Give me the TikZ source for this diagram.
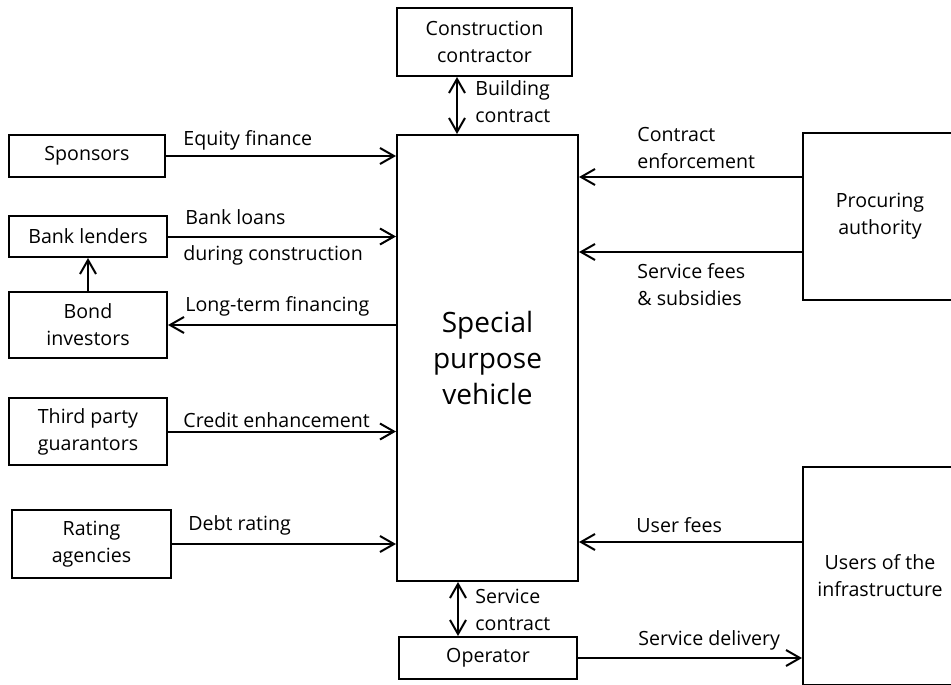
\documentclass[tikz,border=0pt]{standalone}
\usepackage{fontspec}
\setmainfont{Open Sans}
\usetikzlibrary{arrows.meta,positioning}

\begin{document}
\begin{tikzpicture}[x=0.5pt,y=-0.5pt,
  every node/.style={font=\fontsize{9.8}{13.5}\selectfont},
  party/.style={draw,line width=1pt,align=center,inner sep=0pt},
  flowlabel/.style={align=left,inner sep=0pt,anchor=west},
  flow/.style={line width=1pt,-{Straight Barb[length=7pt,width=8pt]}},
  twoway/.style={line width=1pt,{Straight Barb[length=7pt,width=8pt]}-{Straight Barb[length=7pt,width=8pt]}}]
  \useasboundingbox (0,0) rectangle (951,684);
  \clip (0,0) rectangle (951,684);

  % parties
  \node[party,minimum width=87.5pt,minimum height=34pt] (cc) at (484.5,42) {Construction\\contractor};
  \node[party,minimum width=90.5pt,minimum height=223pt,font=\fontsize{14}{17.8}\selectfont] (spv) at (487.5,358) {Special\\purpose\\vehicle};
  \node[party,minimum width=78pt,minimum height=21pt] (sponsors) at (87,156) {Sponsors};
  \node[party,minimum width=79pt,minimum height=20.5pt] (bank) at (88,236.5) {Bank lenders};
  \node[party,minimum width=79pt,minimum height=33pt] (bond) at (88,325) {Bond\\investors};
  \node[party,minimum width=79pt,minimum height=33.5pt] (third) at (88,431.5) {Third party\\guarantors};
  \node[party,minimum width=79.5pt,minimum height=34pt] (rating) at (91.5,544) {Rating\\agencies};
  \node[party,minimum width=89pt,minimum height=21pt] (operator) at (488,658) {Operator};
  \node[party,minimum width=77pt,minimum height=83.5pt] (proc) at (880,216.5) {Procuring\\authority};
  \node[party,minimum width=77pt,minimum height=109pt] (users) at (880,576) {Users of the\\infrastructure};

  % left side flows
  \draw[flow] (sponsors.east) -- (sponsors.east -| spv.west);
  \draw[flow] (bank.east) -- (bank.east -| spv.west);
  \draw[flow] (bond.east -| spv.west) -- (bond.east);
  \draw[flow] (third.east) -- (third.east -| spv.west);
  \draw[flow] (rating.east) -- (rating.east -| spv.west);
  \draw[flow] (bond.north) -- (bank.south);

  % contracts
  \coordinate (cx) at (457,0);
  \coordinate (ox) at (458,0);
  \draw[twoway] (cc.south -| cx) -- (spv.north -| cx);
  \draw[twoway] (spv.south -| ox) -- (operator.north -| ox);

  % right side flows
  \coordinate (ce) at (0,177);
  \coordinate (sf) at (0,252);
  \coordinate (uf) at (0,542);
  \draw[flow] (proc.west |- ce) -- (spv.east |- ce);
  \draw[flow] (proc.west |- sf) -- (spv.east |- sf);
  \draw[flow] (users.west |- uf) -- (spv.east |- uf);
  \draw[flow] (operator.east) -- (operator.east -| users.west);

  % labels
  \node[flowlabel] (equity) at (183,140) {Equity finance};
  \node[flowlabel] (loans) at (185,217) {Bank loans};
  \node[flowlabel] (during) at (183,255) {during construction};
  \node[flowlabel] (longterm) at (185,306) {Long-term financing};
  \node[flowlabel] (credit) at (183,420) {Credit enhancement};
  \node[flowlabel] (debt) at (188,525) {Debt rating};
  \node[flowlabel] (building) at (475,102) {Building\\contract};
  \node[flowlabel] (enforce) at (637,148) {Contract\\enforcement};
  \node[flowlabel] (fees) at (637,285) {Service fees\\\& subsidies};
  \node[flowlabel] (userfees) at (636,525) {User fees};
  \node[flowlabel] (service) at (475,610) {Service\\contract};
  \node[flowlabel] (delivery) at (638,640) {Service delivery};
\end{tikzpicture}
\end{document}
